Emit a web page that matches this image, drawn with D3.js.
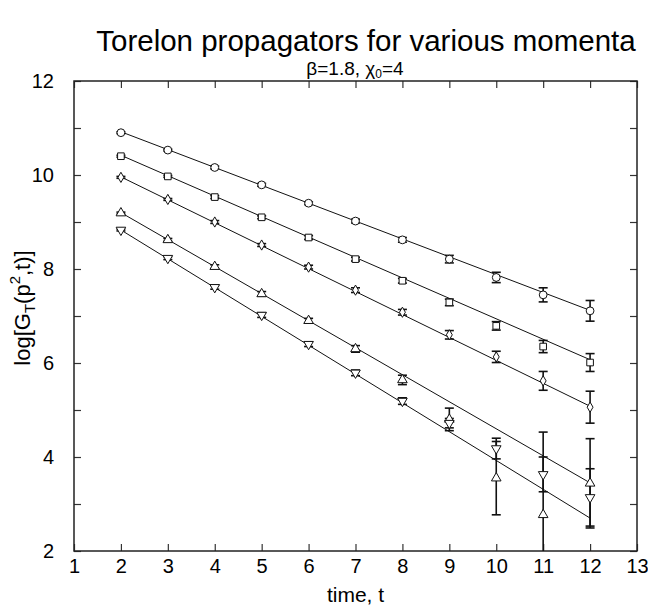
<!DOCTYPE html>
<html>
<head>
<meta charset="utf-8">
<script src="https://cdn.jsdelivr.net/npm/d3@7"></script>
<style>
  body { margin: 0; background: #fff; }
  text { font-family: "Liberation Sans", Arial, sans-serif; fill: #000; }
</style>
</head>
<body>
<div id="chart"></div>
<script>
// time slices
const times = [2, 3, 4, 5, 6, 7, 8, 9, 10, 11, 12];

// log G_T values, one array per momentum
const circleVals   = [10.90, 10.53, 10.16, 9.79, 9.40, 9.02, 8.62, 8.21, 7.82, 7.45, 7.11];
const circleErrs   = [0.02, 0.02, 0.03, 0.03, 0.03, 0.04, 0.05, 0.08, 0.11, 0.15, 0.22];
const squareVals   = [10.40, 9.97, 9.53, 9.10, 8.67, 8.21, 7.75, 7.29, 6.79, 6.35, 6.01];
const squareErrs   = [0.02, 0.02, 0.03, 0.03, 0.04, 0.04, 0.05, 0.07, 0.09, 0.13, 0.19];
const diamondVals  = [9.95, 9.48, 9.00, 8.51, 8.04, 7.55, 7.08, 6.60, 6.13, 5.62, 5.06];
const diamondErrs  = [0.02, 0.02, 0.03, 0.03, 0.04, 0.05, 0.06, 0.09, 0.12, 0.20, 0.34];
const triUpVals    = [9.19, 8.62, 8.05, 7.47, 6.90, 6.30, 5.64, 4.80, 3.55, 2.77, 3.44];
const triUpErrs    = [0.02, 0.03, 0.04, 0.05, 0.05, 0.07, 0.10, 0.24, 0.78, 1.76, 0.95];
const triDownVals  = [8.83, 8.23, 7.61, 7.02, 6.40, 5.79, 5.19, 4.72, 4.18, 3.63, 3.14];
const triDownErrs  = [0.02, 0.03, 0.04, 0.05, 0.05, 0.06, 0.07, 0.10, 0.22, 0.37, 0.61];

// fitted straight lines: value at t = 2 and at t = 12
const fitTimes  = [2, 12];
const fitStarts = [10.92, 10.42, 9.96, 9.20, 8.83];
const fitEnds   = [7.12, 6.07, 5.08, 3.45, 2.70];

const xTicks = d3.range(1, 14);
const yTicks = d3.range(2, 13);
const yLabels = [2, 4, 6, 8, 10, 12];

const series = [
  { shape: "circle",   vals: circleVals,  errs: circleErrs },
  { shape: "square",   vals: squareVals,  errs: squareErrs },
  { shape: "diamond",  vals: diamondVals, errs: diamondErrs },
  { shape: "triUp",    vals: triUpVals,   errs: triUpErrs },
  { shape: "triDown",  vals: triDownVals, errs: triDownErrs }
];

const W = 648, H = 610;
const margin = { top: 81, right: 11, bottom: 59, left: 74 };
const width = W - margin.left - margin.right;
const height = H - margin.top - margin.bottom;

const svgRoot = d3.select("#chart").append("svg")
  .attr("width", W)
  .attr("height", H);

const svg = svgRoot.append("g")
  .attr("transform", "translate(" + margin.left + "," + margin.top + ")");

const x = d3.scaleLinear().domain([1, 13]).range([0, width]);
const y = d3.scaleLinear().domain([2, 12]).range([height, 0]);

svgRoot.append("defs").append("clipPath").attr("id", "plotclip")
  .append("rect").attr("width", width).attr("height", height);

// Title and subtitle
svgRoot.append("text")
  .attr("x", 366).attr("y", 51)
  .attr("text-anchor", "middle")
  .style("font-size", "29.5px")
  .text("Torelon propagators for various momenta");

const sub = svgRoot.append("text")
  .attr("x", 355).attr("y", 75)
  .attr("text-anchor", "middle")
  .style("font-size", "19px");
sub.append("tspan").text("\u03b2=1.8, \u03c7");
sub.append("tspan").attr("dy", 3).style("font-size", "12px").text("0");
sub.append("tspan").attr("dy", -3).text("=4");

// Axes with inward ticks
const tickLen = 7;
const fs = "20px";
svg.append("g")
  .attr("transform", "translate(0," + height + ")")
  .call(d3.axisBottom(x).tickValues(xTicks).tickSizeInner(-tickLen).tickSizeOuter(0).tickPadding(8))
  .call(g => g.select(".domain").remove());
svg.append("g")
  .call(d3.axisTop(x).tickValues(xTicks).tickSizeInner(-tickLen).tickSizeOuter(0).tickFormat(""))
  .call(g => g.select(".domain").remove());
svg.append("g")
  .call(d3.axisLeft(y).tickValues(yTicks).tickSizeInner(-tickLen).tickSizeOuter(0).tickPadding(20)
    .tickFormat(d => yLabels.includes(d) ? d : ""))
  .call(g => g.select(".domain").remove());
svg.append("g")
  .attr("transform", "translate(" + width + ",0)")
  .call(d3.axisRight(y).tickValues(yTicks).tickSizeInner(-tickLen).tickSizeOuter(0).tickFormat(""))
  .call(g => g.select(".domain").remove());

svg.selectAll(".tick line").attr("stroke", "#333").attr("stroke-width", 1.2);
svg.selectAll(".tick text")
  .attr("font-size", null)
  .attr("font-family", null)
  .style("font-size", fs);

// frame
svg.append("rect")
  .attr("width", width).attr("height", height)
  .attr("fill", "none").attr("stroke", "#222").attr("stroke-width", 1.5);

// Axis labels
svgRoot.append("text")
  .attr("x", margin.left + x(7)).attr("y", 602)
  .attr("text-anchor", "middle")
  .style("font-size", "21px")
  .text("time, t");

const yl = svgRoot.append("text")
  .attr("transform", "translate(30,308) rotate(-90)")
  .attr("text-anchor", "middle")
  .style("font-size", "22px");
yl.append("tspan").text("log[G");
yl.append("tspan").attr("dy", 5).style("font-size", "15px").text("T");
yl.append("tspan").attr("dy", -5).text("(p");
yl.append("tspan").attr("dy", -10).style("font-size", "15px").text("2");
yl.append("tspan").attr("dy", 10).text(",t)]");

const plot = svg.append("g").attr("clip-path", "url(#plotclip)");

// fit lines
fitStarts.forEach((s, i) => {
  plot.append("line")
    .attr("x1", x(fitTimes[0])).attr("y1", y(s))
    .attr("x2", x(fitTimes[1])).attr("y2", y(fitEnds[i]))
    .attr("stroke", "#111").attr("stroke-width", 1);
});

// error bars
const capW = 4.5;
series.forEach(s => {
  const g = plot.append("g");
  times.forEach((t, i) => {
    const cx = x(t), lo = y(s.vals[i] - s.errs[i]), hi = y(s.vals[i] + s.errs[i]);
    g.append("line").attr("x1", cx).attr("x2", cx).attr("y1", lo).attr("y2", hi)
      .attr("stroke", "#111").attr("stroke-width", 1.6);
    [lo, hi].forEach(yy => g.append("line")
      .attr("x1", cx - capW).attr("x2", cx + capW).attr("y1", yy).attr("y2", yy)
      .attr("stroke", "#111").attr("stroke-width", 1.6));
  });
});

// markers
const symbols = {
  circle: d3.symbol().type(d3.symbolCircle).size(48),
  square: d3.symbol().type(d3.symbolSquare).size(44),
  diamond: d3.symbol().type(d3.symbolDiamond).size(30),
  triUp: d3.symbol().type(d3.symbolTriangle).size(40),
  triDown: d3.symbol().type(d3.symbolTriangle).size(40)
};

series.forEach(s => {
  plot.append("g").selectAll("path")
    .data(times.map((t, i) => ({ t: t, v: s.vals[i] })))
    .enter().append("path")
    .attr("d", symbols[s.shape])
    .attr("transform", d => "translate(" + x(d.t) + "," + y(d.v) + ")" + (s.shape === "triDown" ? " rotate(180)" : ""))
    .attr("fill", "#fff")
    .attr("stroke", "#111")
    .attr("stroke-width", 1);
});
</script>
</body>
</html>
